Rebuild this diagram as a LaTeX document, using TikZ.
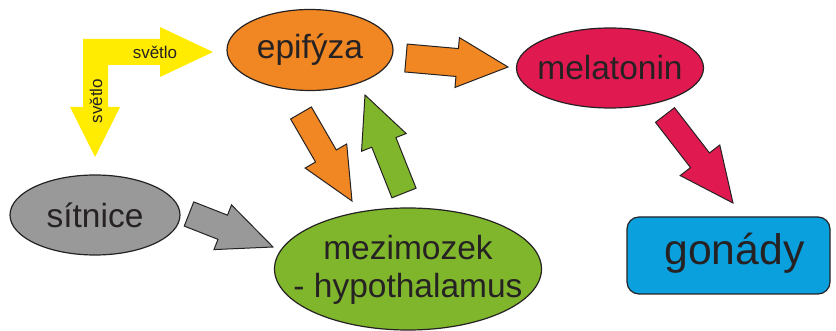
\documentclass[tikz,border=0pt]{standalone}
\usepackage{fontspec}
\setmainfont{Liberation Sans}
\usetikzlibrary{shapes.geometric,calc}
\definecolor{cOrange}{RGB}{241,135,34}
\definecolor{cRed}{RGB}{224,26,80}
\definecolor{cGrey}{RGB}{153,153,153}
\definecolor{cGreen}{RGB}{127,182,44}
\definecolor{cBlue}{RGB}{10,160,222}
\definecolor{cYellow}{RGB}{255,236,0}
\definecolor{cInk}{RGB}{38,34,35}
\newcommand\blockarr[6]{%
  \coordinate (ba) at ($(#2)!#5!(#1)$);
  \draw[#6] ($(#1)!#3!90:(#2)$) -- ($(ba)!#3!90:(#2)$) -- ($(ba)!#4!90:(#2)$) -- (#2)
    -- ($(ba)!#4!-90:(#2)$) -- ($(ba)!#3!-90:(#2)$) -- ($(#1)!#3!-90:(#2)$) -- cycle;}
\begin{document}
\begin{tikzpicture}[x=1pt,y=-1pt,
  bubble/.style={ellipse, draw=cInk, line width=1.2pt, inner sep=0pt},
  btext/.style={text=cInk, font=\fontsize{33.5}{38}\selectfont, inner sep=0pt, align=center},
  barr/.style={draw=cInk, line width=1pt, line join=miter},
  lbl/.style={text=cInk, font=\fontsize{17}{19}\selectfont, inner sep=0pt}]
\useasboundingbox[fill=white] (0,0) rectangle (836,331);
% nodes
\node[bubble, fill=cOrange, minimum width=166pt, minimum height=81pt,
  label={[btext]center:epifýza}] (epi) at (310,50) {};
\node[bubble, fill=cRed, minimum width=187pt, minimum height=80pt,
  label={[btext]center:melatonin}] (mel) at (610,68) {};
\node[bubble, fill=cGrey, minimum width=170pt, minimum height=80pt,
  label={[btext]center:sítnice}] (sit) at (95,215) {};
\node[bubble, fill=cGreen, minimum width=267pt, minimum height=122pt,
  label={[btext, yshift=-1pt]center:{mezimozek\\- hypothalamus}}] (mez) at (408,269) {};
\node[draw=cInk, line width=1.2pt, fill=cBlue, rounded corners=12pt, minimum width=203pt, minimum height=77pt,
  inner sep=0pt,
  label={[text=cInk, font=\fontsize{42.7}{46}\selectfont, inner sep=0pt, xshift=6pt, yshift=2pt]center:gonády}] (gon) at (728.5,255.5) {};
% yellow light arrow
\fill[cYellow] (83,39) -- (160,39) -- (160,27) -- (213,52) -- (160,77) -- (160,65) -- (108,65)
  -- (108,107) -- (120,107) -- (95,157) -- (70,107) -- (83,107) -- cycle;
\node[lbl] (sv1) at (155,52) {světlo};
\node[lbl, rotate=90] (sv2) at (96,101) {světlo};
% block arrow end points
\coordinate (a1s) at (406,58);  \coordinate (a1t) at (508,67);
\coordinate (a2s) at (301,113); \coordinate (a2t) at (352,201);
\coordinate (a3s) at (404,193); \coordinate (a3t) at (365,95);
\coordinate (a4s) at (189,214); \coordinate (a4t) at (273,247);
\coordinate (a5s) at (665,115); \coordinate (a5t) at (733,203);
\blockarr{a1s}{a1t}{14pt}{25pt}{51pt}{barr, fill=cOrange}
\blockarr{a2s}{a2t}{12pt}{24pt}{52pt}{barr, fill=cOrange}
\blockarr{a3s}{a3t}{13pt}{24pt}{51pt}{barr, fill=cGreen}
\blockarr{a4s}{a4t}{13pt}{24pt}{54pt}{barr, fill=cGrey}
\blockarr{a5s}{a5t}{12pt}{25pt}{54pt}{barr, fill=cRed}
\end{tikzpicture}
\end{document}
